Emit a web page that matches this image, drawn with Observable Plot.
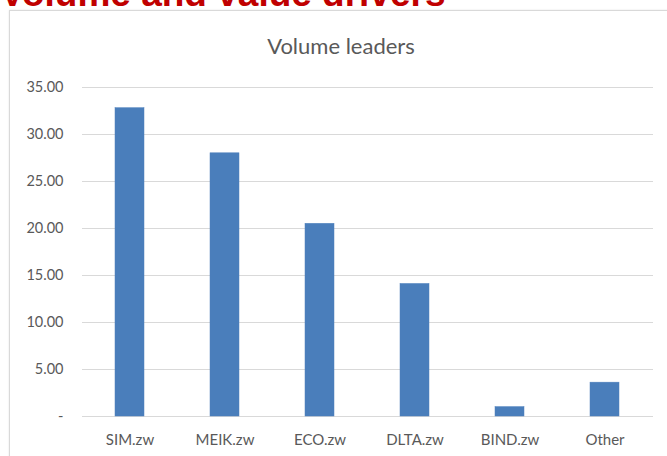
<!DOCTYPE html>
<html>
<head>
<meta charset="utf-8">
<script src="https://cdn.jsdelivr.net/npm/d3@7"></script>
<script src="https://cdn.jsdelivr.net/npm/@observablehq/plot@0.6"></script>
<style>
  html, body { margin: 0; padding: 0; background: #fff; overflow: hidden; }
  #page { position: relative; width: 667px; height: 456px; overflow: hidden; }
  #heading { position: absolute; left: 0px; top: -27px; font: bold 37px "Liberation Sans", Arial, sans-serif; color: #c00000; white-space: nowrap; }
  #box { position: absolute; left: 9px; top: 10px; width: 700px; height: 500px; border: 1px solid #d9d9d9; box-shadow: 0 0 2px #e6e6e6; }
  #title { position: absolute; left: 0; width: 682px; top: 32px; text-align: center; font: 22px Lato, "Open Sans", sans-serif; color: #595959; }
  #chart { position: absolute; left: 0; top: 0; }
</style>
</head>
<body>
<div id="page">
  <div id="heading">Volume and value drivers</div>
  <div id="box"></div>
  <div id="title">Volume leaders</div>
  <div id="chart"></div>
</div>
<script>
const categories = ["SIM.zw", "MEIK.zw", "ECO.zw", "DLTA.zw", "BIND.zw", "Other"];
const volumes = [32.8, 28.0, 20.5, 14.1, 1.0, 3.6];
const yTicks = [0, 5, 10, 15, 20, 25, 30, 35];

const data = categories.map((c, i) => ({category: c, volume: volumes[i]}));

const chart = Plot.plot({
  width: 667,
  height: 456,
  marginLeft: 82,
  marginRight: 14,
  marginTop: 87,
  marginBottom: 40,
  style: {background: "transparent", fontFamily: "Lato, 'Open Sans', sans-serif", color: "#595959"},
  x: {domain: categories, paddingInner: 0.69, paddingOuter: 0.345, label: null},
  y: {domain: [0, 35], label: null},
  marks: [
    Plot.ruleY(yTicks, {stroke: "#d9d9d9", strokeWidth: 1}),
    Plot.barY(data, {x: "category", y: "volume", fill: "#4a7ebb", stroke: "#4f81bd", strokeWidth: 0.5}),
    Plot.axisY({ticks: yTicks, tickSize: 0, tickPadding: 19, fontSize: 14.5, fill: "#595959",
      tickFormat: d => d === 0 ? "-" : d.toFixed(2), label: null}),
    Plot.axisX({tickSize: 0, tickPadding: 18, fontSize: 15, fill: "#595959", label: null})
  ]
});
document.getElementById("chart").appendChild(chart);
</script>
</body>
</html>
